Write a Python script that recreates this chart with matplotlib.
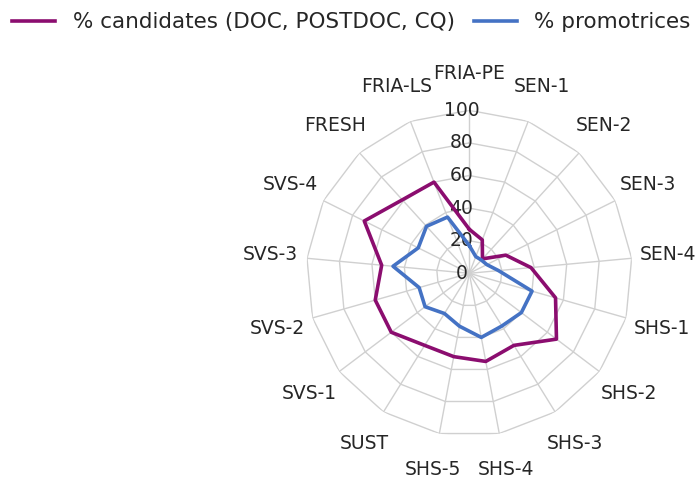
import numpy as np
import matplotlib
matplotlib.use("Agg")
import matplotlib.pyplot as plt
from matplotlib.transforms import offset_copy

categories = ["FRIA-PE", "SEN-1", "SEN-2", "SEN-3", "SEN-4", "SHS-1", "SHS-2",
              "SHS-3", "SHS-4", "SHS-5", "SUST", "SVS-1", "SVS-2", "SVS-3",
              "SVS-4", "FRESH", "FRIA-LS"]
candidates = [27, 22, 12, 25, 38, 55, 67, 52, 55, 52, 52, 60, 60, 54, 72, 61, 60]
promotrices = [17, 11, 11, 12, 18, 40, 40, 38, 40, 33, 29, 34, 32, 47, 35, 39, 37]
rings = [0, 20, 40, 60, 80, 100]

purple = "#8B0D6F"
blue = "#4472C4"
grid_c = "#d0d0d0"

plt.rcParams['font.family'] = ['DejaVu Sans']

fig = plt.figure(figsize=(6.96, 4.84), dpi=100)
ax = fig.add_axes([0.4401, 0.0985, 0.4684, 0.6736], projection='polar')
ax.set_theta_zero_location('N')
ax.set_theta_direction(-1)
ax.set_ylim(0, 100)
ax.grid(False)
ax.set_xticks([])
ax.set_yticks([])
ax.spines['polar'].set_visible(False)
ax.patch.set_alpha(0)

n = len(categories)
ang = np.arange(n) * 2 * np.pi / n
ang_c = np.append(ang, ang[0])

# polygon grid
for r in rings[1:]:
    ax.plot(ang_c, [r] * (n + 1), color=grid_c, lw=1, zorder=1)
for a in ang:
    ax.plot([a, a], [0, 100], color=grid_c, lw=1, zorder=1)

ax.plot(ang_c, candidates + candidates[:1], color=purple, lw=2.6, zorder=3,
        label="% candidates (DOC, POSTDOC, CQ)")
ax.plot(ang_c, promotrices + promotrices[:1], color=blue, lw=2.6, zorder=3,
        label="% promotrices")

# value labels
tr = offset_copy(ax.transData, fig=fig, x=-8, y=0, units='dots')
for r in rings:
    ax.text(0, r, str(r), transform=tr, ha='center', va='center',
            fontsize=13.5, color='#262626', zorder=2)

# category labels
for a, lab in zip(ang, categories):
    ax.text(a, 122.7, lab, ha='center', va='center', fontsize=13.5,
            color='#262626')

fig.legend(loc='upper left', bbox_to_anchor=(-0.01, 1.015), ncol=2, frameon=False,
           fontsize=15.5, handlelength=2.0, handletextpad=0.8, columnspacing=0.9,
           labelcolor='#262626')

fig.savefig("out.png", dpi=100)
